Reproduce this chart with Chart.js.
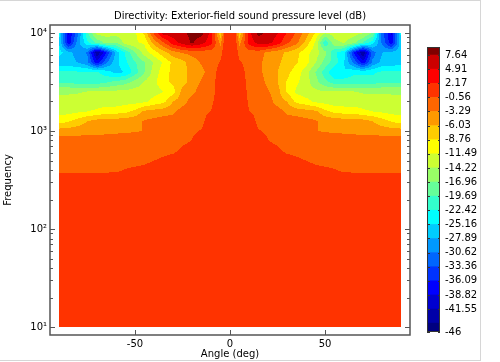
<!DOCTYPE html>
<html>
<head>
<meta charset="utf-8">
<title>Directivity</title>
<script src="https://cdn.jsdelivr.net/npm/chart.js@4.4.1/dist/chart.umd.min.js"></script>
<style>
  html, body { margin: 0; padding: 0; background: #fff; }
  #wrap { position: relative; width: 500px; height: 362px; overflow: hidden; }
  #frame { position: absolute; left: -2px; top: 0; width: 483px; height: 361px; border: 1px solid #d6d6d6; box-sizing: border-box; }
  #main { position: absolute; left: 0; top: 0; }
  #bar { position: absolute; left: 420px; top: 0; }
</style>
</head>
<body>
<div id="wrap">
  <div id="frame"></div>
  <canvas id="main" width="500" height="362"></canvas>
  <canvas id="bar" width="80" height="362"></canvas>
</div>
<script>
// --- data ---
const angles = [-90, -85, -80, -75, -70, -65, -60, -55, -50, -45, -40, -35, -30, -25, -20, -15, -10, -5, -2.5, 0,
                2.5, 5, 10, 15, 20, 25, 30, 35, 40, 45, 50, 55, 60, 65, 70, 75, 80, 85, 90];
const freqs = [10000, 7943, 6310, 5012, 3981, 3162, 2512, 1995, 1585, 1259, 1000, 794, 631, 501, 398, 316, 10];

// sound pressure level (dB), one row per frequency, one column per angle
const spl = [
  [-24, -39, -31, -20, -13, -13, -13, -13, -12, -8, 0, 6, 6.5, 7, 8.5, 8.5, 4, -8, 1.5, 1.5,
   1.5, -8, 4, 8.5, 7, 5, 2, -1, -4.5, -9, -14, -13, -13, -13, -14, -17, -32, -39, -24],
  [-25, -38, -29, -23, -19, -16, -17, -13, -12, -11, -5, -1, 3.5, 6, 8, 6, 3, -4, 1.5, 1.5,
   1.5, -4, 3, 6, 6, 3.5, 0, -2.5, -7, -12, -22, -15, -14, -16, -20, -24, -31, -38, -26],
  [-24, -27, -29, -31, -44, -36, -27, -22, -17, -13, -10, -7, -4.5, -3, -2.5, -2, -2, -1.5, 1.5, 1.5,
   1.5, -1.5, -2, -2, -4, -5, -6.5, -8, -10.5, -13, -16, -22, -24, -36, -44, -32, -28, -27, -26],
  [-27, -27, -28, -30, -38, -31, -26, -23, -20, -17, -14, -11, -8, -7, -4.5, -3, -2, -0.3, 1.5, 1.5,
   1.5, -0.3, -1.5, -2.5, -4.5, -5.5, -7, -8.5, -10.5, -14, -18, -21, -25, -31, -38, -30, -27, -27, -26],
  [-22, -22, -22, -22, -22, -24, -26, -25, -21, -17, -13, -10, -8, -7, -5, -4, -2, 0.6, 1.5, 1.5,
   1.5, 0.6, -1.5, -2.5, -4.5, -6, -8, -10, -13, -17, -21, -25, -25, -23, -23, -23, -22, -22, -22],
  [-20, -20, -21, -21, -21, -20, -19, -18, -16, -14, -12, -10, -8, -7, -5, -3, -1.5, 0.7, 1.5, 1.5,
   1.5, 0.7, -1.2, -2, -4, -6, -9, -11, -13, -16, -19, -21, -21, -21, -21, -21, -20, -20, -20],
  [-14.5, -14.5, -14.5, -14, -14, -14, -13.5, -13.5, -13, -13, -12.5, -11.5, -10, -5, -4, -2, -1.5, 0.8, 1.5, 1.5,
   1.5, 0.8, -1, -1.8, -3, -5, -9, -12, -13, -13.5, -14, -14, -14, -14, -14.5, -14.5, -14.5, -14.5, -14.5],
  [-13.5, -13.5, -13, -13, -13, -13, -13, -12.5, -12.5, -12, -10.5, -9.5, -6, -4.5, -2, -2, -1, 0.8, 1.5, 1.5,
   1.5, 0.9, -0.8, -1.8, -2, -4.5, -6, -9.5, -10.5, -12, -12.5, -13, -13, -13, -13, -13, -13, -13.5, -13.5],
  [-12.5, -12.5, -12, -11.5, -11, -10, -10, -9.5, -8, -5.5, -5, -4.5, -4, -2, -1.8, -1.2, -0.5, 1, 1.5, 1.5,
   1.5, 1, -0.5, -1.2, -1.8, -2, -4, -4.5, -5, -5.5, -8, -9.5, -10, -10, -11, -11.5, -12, -12.5, -12.5],
  [-10, -9, -7.5, -6, -5, -4.8, -4.6, -4.5, -4, -3, -2.5, -2, -1.8, -1.5, -0.8, -1.2, 0.8, 1, 1.5, 1.5,
   1.5, 1, 0.8, -1.2, -0.8, -1.5, -1.8, -2, -2.5, -3, -4, -4.5, -4.6, -4.8, -5, -6, -7.5, -9, -10],
  [-4.7, -4.6, -4.5, -4.4, -4.2, -4, -3.8, -3.6, -3.5, -3.2, -2.5, -2, -1.8, -1.5, -0.9, -0.4, 1, 1, 1.5, 1.5,
   1.5, 1, 1, -0.4, -0.9, -1.5, -1.8, -2, -2.5, -3.2, -3.5, -3.6, -3.8, -4, -4.2, -4.4, -4.5, -4.6, -4.7],
  [-1.9, -1.9, -1.9, -1.9, -1.9, -1.9, -1.9, -1.9, -1.9, -1.9, -1.8, -1.6, -1.4, -1.2, -0.5, 0.5, 1, 1, 1.5, 1.5,
   1.5, 1, 1, 0.5, -0.5, -1.2, -1.4, -1.6, -1.8, -1.9, -1.9, -1.9, -1.9, -1.9, -1.9, -1.9, -1.9, -1.9, -1.9],
  [-1.9, -1.9, -1.9, -1.9, -1.9, -1.9, -1.9, -1.9, -1.9, -1.9, -1.9, -1.5, -1.2, 0, 0.8, 0.8, 1, 1, 1.5, 1.5,
   1.5, 1, 1, 0.8, 0.8, 0, -1.2, -1.5, -1.9, -1.9, -1.9, -1.9, -1.9, -1.9, -1.9, -1.9, -1.9, -1.9, -1.9],
  [-1.9, -1.9, -1.9, -1.9, -1.9, -1.9, -1.9, -1.9, -1.9, -1.2, -0.6, 0, 0.8, 0.8, 0.8, 0.8, 1, 1, 1.5, 1.5,
   1.5, 1, 1, 0.8, 0.8, 0.8, 0.8, 0, -0.6, -1.2, -1.9, -1.9, -1.9, -1.9, -1.9, -1.9, -1.9, -1.9, -1.9],
  [-1.1, -1.1, -1.1, -1.1, -1.1, -1.0, -0.9, -0.4, 0.2, 0.3, 0.8, 0.8, 0.8, 0.8, 0.8, 0.8, 0.8, 0.8, 0.8, 0.8,
   0.8, 0.8, 0.8, 0.8, 0.8, 0.8, 0.8, 0.8, 0.8, 0.3, 0.2, -0.4, -0.9, -1.0, -1.1, -1.1, -1.1, -1.1, -1.1],
  [0.8, 0.8, 0.8, 0.8, 0.8, 0.8, 0.8, 0.8, 0.8, 0.8, 0.8, 0.8, 0.8, 0.8, 0.8, 0.8, 0.8, 0.8, 0.8, 0.8,
   0.8, 0.8, 0.8, 0.8, 0.8, 0.8, 0.8, 0.8, 0.8, 0.8, 0.8, 0.8, 0.8, 0.8, 0.8, 0.8, 0.8, 0.8, 0.8],
  [0.8, 0.8, 0.8, 0.8, 0.8, 0.8, 0.8, 0.8, 0.8, 0.8, 0.8, 0.8, 0.8, 0.8, 0.8, 0.8, 0.8, 0.8, 0.8, 0.8,
   0.8, 0.8, 0.8, 0.8, 0.8, 0.8, 0.8, 0.8, 0.8, 0.8, 0.8, 0.8, 0.8, 0.8, 0.8, 0.8, 0.8, 0.8, 0.8]
];

// contour levels (band edges) and band colours, bottom to top
const levels = [-46, -44.28, -41.55, -38.82, -36.09, -33.36, -30.62, -27.89, -25.16, -22.42, -19.69,
                -16.96, -14.22, -11.49, -8.76, -6.03, -3.29, -0.56, 2.17, 4.91, 7.64, 9.2];
const bandColors = ['#000080', '#0000a8', '#0000d0', '#0000ff', '#0033ff', '#0066ff', '#0099ff', '#00ccff',
                    '#00ffff', '#33ffcc', '#66ff99', '#99ff66', '#ccff33', '#ffff00', '#ffcc00', '#ff9900',
                    '#ff6600', '#ff3300', '#ff0000', '#cc0000', '#800000'];
const cbTicks = [7.64, 4.91, 2.17, -0.56, -3.29, -6.03, -8.76, -11.49, -14.22, -16.96, -19.69,
                 -22.42, -25.16, -27.89, -30.62, -33.36, -36.09, -38.82, -41.55, -46];

const xTicks = [-50, 0, 50];
const yTicks = [10, 100, 1000, 10000];
const yTickLabels = ['10\u00b9', '10\u00b2', '10\u00b3', '10\u2074'];
const yMinorTicks = [20, 30, 40, 50, 60, 70, 80, 90, 200, 300, 400, 500, 600, 700, 800, 900,
                     2000, 3000, 4000, 5000, 6000, 7000, 8000, 9000];

Chart.defaults.font.family = "'DejaVu Sans', sans-serif";
Chart.defaults.font.size = 10;
Chart.defaults.color = '#000';

// --- helpers ---
const bandRGB = bandColors.map(c => [1, 3, 5].map(k => parseInt(c.substr(k, 2), 16)));
const logF = freqs.map(f => Math.log10(f));
const clamp01 = t => Math.max(0, Math.min(1, t));

function colourFor(v) {
    for (let i = 0; i < bandRGB.length; i++) {
        if (v < levels[i + 1]) return bandRGB[i];
    }
    return bandRGB[bandRGB.length - 1];
}

function sampleAt(a, L) {
    let i = 0;
    while (i < angles.length - 2 && a > angles[i + 1]) i++;
    let j = 0;
    while (j < logF.length - 2 && L < logF[j + 1]) j++;
    const ta = clamp01((a - angles[i]) / (angles[i + 1] - angles[i]));
    const tl = clamp01((logF[j] - L) / (logF[j] - logF[j + 1]));
    const top = spl[j][i] * (1 - ta) + spl[j][i + 1] * ta;
    const bot = spl[j + 1][i] * (1 - ta) + spl[j + 1][i + 1] * ta;
    return top * (1 - tl) + bot * tl;
}

// filled contour drawn through the chart's scales
const contourFill = {
    id: 'contourFill',
    beforeDatasetsDraw(chart) {
        const { ctx, scales: { x, y } } = chart;
        const left = Math.round(x.getPixelForValue(angles[0]));
        const right = Math.round(x.getPixelForValue(angles[angles.length - 1]));
        const top = Math.round(y.getPixelForValue(freqs[0]));
        const bottom = Math.round(y.getPixelForValue(freqs[freqs.length - 1]));
        const w = right - left, h = bottom - top;
        const off = document.createElement('canvas');
        off.width = w;
        off.height = h;
        const octx = off.getContext('2d');
        const img = octx.createImageData(w, h);
        for (let py = 0; py < h; py++) {
            const L = Math.log10(y.getValueForPixel(top + py + 0.5));
            for (let px = 0; px < w; px++) {
                const a = x.getValueForPixel(left + px + 0.5);
                const rgb = colourFor(sampleAt(a, L));
                const k = (py * w + px) * 4;
                img.data[k] = rgb[0];
                img.data[k + 1] = rgb[1];
                img.data[k + 2] = rgb[2];
                img.data[k + 3] = 255;
            }
        }
        octx.putImageData(img, 0, 0);
        ctx.drawImage(off, left, top);
    }
};

// box frame with inward tick marks on all four sides
const frameTicks = {
    id: 'frameTicks',
    afterDraw(chart) {
        const { ctx, chartArea: ca, scales: { x, y } } = chart;
        ctx.save();
        ctx.strokeStyle = '#555';
        ctx.lineWidth = 1.5;
        ctx.strokeRect(ca.left, ca.top, ca.right - ca.left, ca.bottom - ca.top);
        ctx.lineWidth = 1;
        ctx.beginPath();
        xTicks.forEach(v => {
            const px = Math.round(x.getPixelForValue(v)) + 0.5;
            ctx.moveTo(px, ca.bottom); ctx.lineTo(px, ca.bottom - 5);
            ctx.moveTo(px, ca.top); ctx.lineTo(px, ca.top + 5);
        });
        const yTick = (v, len) => {
            const py = Math.round(y.getPixelForValue(v)) + 0.5;
            ctx.moveTo(ca.left, py); ctx.lineTo(ca.left + len, py);
            ctx.moveTo(ca.right, py); ctx.lineTo(ca.right - len, py);
        };
        yTicks.forEach(v => yTick(v, 5));
        yMinorTicks.forEach(v => yTick(v, 3));
        ctx.stroke();
        ctx.restore();
    }
};

const barFrame = {
    id: 'barFrame',
    afterDatasetsDraw(chart) {
        const { ctx, chartArea: ca, scales: { y } } = chart;
        ctx.save();
        ctx.strokeStyle = '#333';
        ctx.lineWidth = 1;
        ctx.strokeRect(ca.left + 0.5, ca.top + 0.5, ca.right - ca.left - 1, ca.bottom - ca.top - 1);
        ctx.beginPath();
        cbTicks.forEach(v => {
            const py = Math.round(y.getPixelForValue(v)) + 0.5;
            ctx.moveTo(ca.left, py); ctx.lineTo(ca.left + 3, py);
            ctx.moveTo(ca.right, py); ctx.lineTo(ca.right - 2, py);
        });
        ctx.stroke();
        ctx.restore();
    }
};

// --- main plot ---
new Chart(document.getElementById('main'), {
    type: 'scatter',
    data: { datasets: [] },
    options: {
        responsive: false,
        animation: false,
        devicePixelRatio: 1,
        layout: { padding: { left: 0, right: 20, top: 0, bottom: 0 } },
        plugins: {
            legend: { display: false },
            tooltip: { enabled: false },
            title: {
                display: true,
                text: 'Directivity: Exterior-field sound pressure level (dB)',
                font: { size: 10, weight: 'normal' },
                color: '#000',
                padding: { top: 10, bottom: 3 }
            }
        },
        scales: {
            x: {
                type: 'linear',
                position: 'bottom',
                min: -94.74,
                max: 94.74,
                afterBuildTicks: s => { s.ticks = xTicks.map(v => ({ value: v })); },
                afterFit: s => { s.height = 27; },
                ticks: { padding: 3, autoSkip: false, maxRotation: 0, callback: v => String(v) },
                grid: { display: false, drawTicks: false },
                border: { display: false },
                title: { display: true, text: 'Angle (deg)', padding: { top: 0, bottom: 2 } }
            },
            y: {
                type: 'logarithmic',
                position: 'left',
                min: 8.29,
                max: 12066,
                afterBuildTicks: s => { s.ticks = yTicks.map(v => ({ value: v })); },
                afterFit: s => { s.width = 50; },
                ticks: {
                    padding: 3,
                    autoSkip: false,
                    callback: v => {
                        const idx = yTicks.indexOf(v);
                        return idx >= 0 ? yTickLabels[idx] : '';
                    }
                },
                grid: { display: false, drawTicks: false },
                border: { display: false },
                title: { display: true, text: 'Frequency', padding: { top: 2, bottom: 0 } }
            },
            y2: {
                type: 'logarithmic',
                position: 'right',
                display: true,
                min: 8.29,
                max: 12066,
                afterFit: s => { s.width = 70; },
                ticks: { display: false },
                grid: { display: false, drawTicks: false },
                border: { display: false }
            }
        }
    },
    plugins: [contourFill, frameTicks]
});

// --- colour bar ---
new Chart(document.getElementById('bar'), {
    type: 'bar',
    data: {
        labels: [''],
        datasets: bandColors.map((c, i) => ({
            data: [[levels[i], levels[i + 1]]],
            backgroundColor: c,
            borderWidth: 0,
            barPercentage: 1,
            categoryPercentage: 1,
            grouped: false
        }))
    },
    options: {
        responsive: false,
        animation: false,
        devicePixelRatio: 1,
        layout: { padding: { left: 7, top: 47, bottom: 30, right: 0 } },
        plugins: {
            legend: { display: false },
            tooltip: { enabled: false }
        },
        scales: {
            x: { display: false },
            y: {
                position: 'right',
                min: -46,
                max: 9.2,
                afterBuildTicks: s => { s.ticks = cbTicks.map(v => ({ value: v })); },
                afterFit: s => { s.width = 60; },
                ticks: { padding: 5, autoSkip: false, callback: v => String(v) },
                grid: { display: false, drawTicks: false },
                border: { display: false }
            }
        }
    },
    plugins: [barFrame]
});
</script>
</body>
</html>
